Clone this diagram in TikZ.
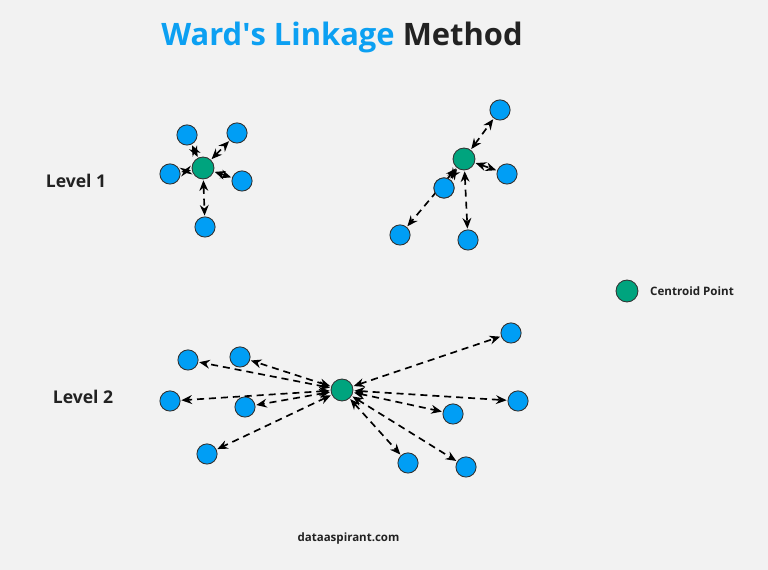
\documentclass[tikz,border=0pt]{standalone}
\usepackage{fontspec}
\setmainfont{Open Sans}
\usetikzlibrary{arrows.meta}

\definecolor{bgcol}{HTML}{F2F2F2}
\definecolor{ptblue}{HTML}{009EF5}
\definecolor{centgreen}{HTML}{00A47E}
\definecolor{titleblue}{HTML}{0CA0F2}
\definecolor{darktext}{HTML}{222222}

\tikzset{
  pt/.style={circle, draw=black!80, line width=0.5pt, fill=ptblue, minimum size=11.5pt, inner sep=0pt},
  cent/.style={circle, draw=black!80, line width=0.5pt, fill=centgreen, minimum size=12.5pt, inner sep=0pt},
  link/.style={<->, >={Stealth[length=6pt,width=5pt]}, line width=0.95pt, dash pattern=on 4pt off 2.8pt, shorten <=0.5pt, shorten >=0.5pt},
  lvl/.style={font=\bfseries\fontsize{10}{12}\selectfont, text=darktext}
}

\begin{document}
\begin{tikzpicture}[x=0.02cm, y=-0.02cm]
\fill[bgcol] (0,0) rectangle (768,570);
\useasboundingbox (0,0) rectangle (768,570);

% title
\node (title) at (342,37) {\bfseries\fontsize{17.6}{21}\selectfont\textcolor{titleblue}{Ward\textquotesingle s Linkage} \textcolor{darktext}{Method}};

% level 1, left cluster
\node[lvl] (lvlA) at (76,181) {Level 1};
\node[cent] (ca) at (203,168) {};
\node[pt] (a1) at (187,135) {};
\node[pt] (a2) at (237,133) {};
\node[pt] (a3) at (170,174) {};
\node[pt] (a4) at (242,181) {};
\node[pt] (a5) at (205,227) {};
\foreach \p in {a1,a2,a3,a4,a5}
  \draw[link] (ca) -- (\p);

% level 1, right cluster
\node[cent] (cb) at (464,159) {};
\node[pt] (b1) at (500,110) {};
\node[pt] (b2) at (507,174) {};
\node[pt] (b3) at (444,188) {};
\node[pt] (b4) at (400,235) {};
\node[pt] (b5) at (468,240) {};
\draw[link] (cb) -- (b4);
\node[pt] at (b3) {};
\foreach \p in {b1,b2,b3,b5}
  \draw[link] (cb) -- (\p);

% legend
\node[cent] (legc) at (627,291) {};
\node[anchor=west, font=\bfseries\fontsize{6.6}{8}\selectfont, text=darktext] (legt) at (644,291) {Centroid Point};

% level 2
\node[lvl] (lvlB) at (83,397) {Level 2};
\node[cent] (cc) at (342,390) {};
\node[pt] (c1) at (188,360) {};
\node[pt] (c2) at (240,357) {};
\node[pt] (c3) at (170,401) {};
\node[pt] (c4) at (245,407) {};
\node[pt] (c5) at (207,454) {};
\node[pt] (c6) at (511,333) {};
\node[pt] (c7) at (518,401) {};
\node[pt] (c8) at (453,414) {};
\node[pt] (c9) at (408,463) {};
\node[pt] (c10) at (466,467) {};
\foreach \p in {c1,c2,c3,c4,c5,c6,c7,c8,c9,c10}
  \draw[link] (cc) -- (\p);

% footer
\node[font=\bfseries\fontsize{6.55}{8}\selectfont, text=darktext] (site) at (348.5,539) {dataaspirant.com};
\end{tikzpicture}
\end{document}
